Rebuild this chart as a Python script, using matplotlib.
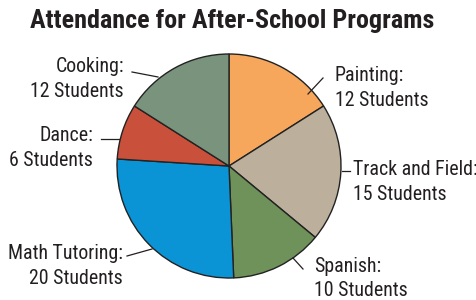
"""Pie chart: attendance for after-school programs."""

import matplotlib

matplotlib.use("Agg")

import matplotlib.pyplot as plt  # noqa: E402

programs = ["Painting", "Track and Field", "Spanish", "Math Tutoring", "Dance", "Cooking"]
students = [12, 15, 10, 20, 6, 12]
colors = ["#F7A75C", "#BCAF9C", "#6F915A", "#0A94D6", "#C9503A", "#7A937D"]

W, H = 477, 300

# label layout in pixel coords: (x, first baseline, align, leader start, leader end)
_LAYOUT = {
    "Painting": (335, 81, "left", (308, 94), (323, 78)),
    "Track and Field": (353, 175, "left", (342, 171), (350, 171)),
    "Spanish": (314, 272, "left", (293, 258), (303, 269)),
    "Math Tutoring": (123, 259, "right", (152, 249), (127, 256)),
    "Dance": (93, 141, "right", (119, 139), (101, 139)),
    "Cooking": (124, 72, "right", (158, 77), (132, 72)),
}

plt.rcParams["font.family"] = ["Roboto Condensed", "Archivo Narrow", "DejaVu Sans"]

fig = plt.figure(figsize=(W / 100, H / 100), dpi=100)
ax = fig.add_axes([0, 0, 1, 1])


def _y(py):
    """Pixel row (from top) to data y."""
    return H - py


ax.pie(
    students,
    colors=colors,
    startangle=90,
    counterclock=False,
    center=(229, _y(166)),
    radius=112,
    wedgeprops={"edgecolor": "#222222", "linewidth": 1.0},
    frame=True,
)
ax.set_xlim(0, W)
ax.set_ylim(0, H)
ax.set_aspect("equal")
ax.axis("off")

for name, n in zip(programs, students):
    x, base, ha, p0, p1 = _LAYOUT[name]
    ax.text(x, _y(base), f"{name}:", ha=ha, va="baseline", fontsize=14.3, color="#231f20")
    ax.text(x, _y(base + 24.5), f"{n} Students", ha=ha, va="baseline", fontsize=14.3, color="#231f20")
    ax.plot([p0[0], p1[0]], [_y(p0[1]), _y(p1[1])], color="#231f20", linewidth=0.9)

ax.text(232, _y(28), "Attendance for After-School Programs", ha="center", va="baseline",
        fontsize=18.8, fontweight="bold", color="#231f20")

fig.savefig("out.png", dpi=100)
